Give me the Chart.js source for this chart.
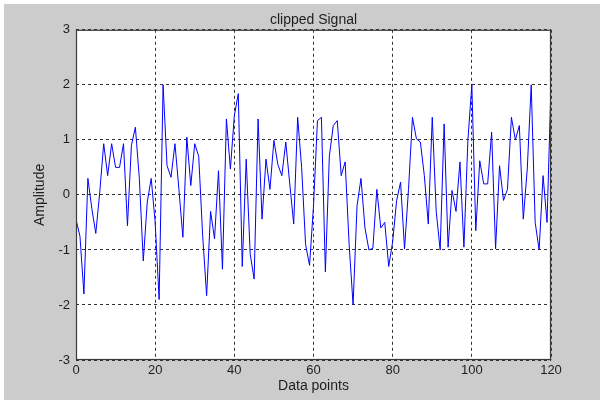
<!DOCTYPE html>
<html>
<head>
<meta charset="utf-8">
<script src="https://cdn.jsdelivr.net/npm/chart.js@4"></script>
<style>
html,body{margin:0;padding:0;background:#fff;}
canvas{display:block;}
</style>
</head>
<body>
<canvas id="c" width="600" height="400"></canvas>
<script>
const titleText = "clipped Signal";
const xLabel = "Data points";
const yLabel = "Amplitude";
const xTicks = [0, 20, 40, 60, 80, 100, 120];
const yTicks = [-3, -2, -1, 0, 1, 2, 3];
const signal = [
  -0.45, -0.75, -1.8, 0.3, -0.25, -0.7, 0.05, 0.93, 0.35, 0.93,
  0.5, 0.5, 0.93, -0.56, 0.9, 1.23, 0.3, -1.2, -0.13, 0.3,
  -0.5, -1.9, 2.0, 0.53, 0.32, 0.93, 0.1, -0.77, 1.05, 0.17,
  0.93, 0.7, -0.74, -1.83, -0.3, -0.8, 0.44, -1.35, 1.38, 0.47,
  1.44, 1.84, -1.3, 0.65, -1.07, -1.53, 1.38, -0.44, 0.65, 0.1,
  0.99, 0.55, 0.35, 0.96, 0.2, -0.53, 1.41, 0.5, -0.9, -1.28,
  -0.2, 1.35, 1.41, -1.4, 0.7, 1.26, 1.35, 0.35, 0.6, -0.9,
  -2.0, -0.2, 0.3, -0.6, -1.0, -0.97, 0.1, -0.6, -0.5, -1.3,
  -0.85, -0.1, 0.23, -0.98, 0.1, 1.41, 1.02, 0.96, 0.35, -0.53,
  1.41, -0.3, -1.0, 1.29, -0.95, 0.08, -0.3, 0.6, -0.95, 0.99,
  2.0, -0.65, 0.62, 0.2, 0.2, 1.14, -0.98, 0.53, -0.1, 0.1,
  1.41, 1.0, 1.26, -0.44, 0.47, 2.0, -0.5, -1.0, 0.35, -0.5,
  2.0
];

const points = signal.map((v, i) => ({x: i, y: v}));

const bgPlugin = {
  id: 'bg',
  beforeDraw(chart) {
    const ctx = chart.ctx;
    const a = chart.chartArea;
    ctx.save();
    ctx.fillStyle = '#ffffff';
    ctx.fillRect(0, 0, chart.width, chart.height);
    ctx.fillStyle = '#cccccc';
    ctx.fillRect(4, 4, chart.width - 4, chart.height - 4);
    ctx.fillStyle = '#ffffff';
    ctx.fillRect(a.left, a.top, a.right - a.left, a.bottom - a.top);
    ctx.restore();
  },
  afterDatasetsDraw(chart) {
    const ctx = chart.ctx;
    const a = chart.chartArea;
    ctx.save();
    ctx.strokeStyle = '#3a3a3a';
    ctx.lineWidth = 1.2;
    ctx.strokeRect(a.left + 0.5, a.top + 0.5, a.right - a.left - 1, a.bottom - a.top - 1);
    ctx.restore();
  }
};

const tickFont = {family: 'Liberation Sans, Arial, sans-serif', size: 13};
const labelFont = {family: 'Liberation Sans, Arial, sans-serif', size: 14};

new Chart(document.getElementById('c'), {
  type: 'line',
  data: {
    datasets: [{
      data: points,
      borderColor: '#0000ff',
      borderWidth: 1,
      pointRadius: 0,
      tension: 0,
      fill: false
    }]
  },
  options: {
    responsive: false,
    animation: false,
    devicePixelRatio: 1,
    layout: {padding: {left: 0, right: 49, top: 0, bottom: 0}},
    plugins: {
      legend: {display: false},
      tooltip: {enabled: false},
      title: {
        display: true,
        fullSize: false,
        text: titleText,
        color: '#1e1e1e',
        font: {family: 'Liberation Sans, Arial, sans-serif', size: 14, weight: 'normal'},
        padding: {top: 12, bottom: 1}
      }
    },
    scales: {
      x: {
        type: 'linear',
        min: 0,
        max: 120,
        afterBuildTicks(scale) { scale.ticks = xTicks.map(v => ({value: v})); },
        afterFit(scale) { scale.height = 40; },
        ticks: {color: '#1e1e1e', font: tickFont, padding: 3, maxRotation: 0},
        grid: {color: '#333333', lineWidth: 1, drawTicks: false},
        border: {display: false, dash: [3, 3]},
        title: {display: true, text: xLabel, color: '#1e1e1e', font: labelFont, padding: {top: 0, bottom: 5}}
      },
      y: {
        type: 'linear',
        min: -3,
        max: 3,
        afterBuildTicks(scale) { scale.ticks = yTicks.map(v => ({value: v})); },
        afterFit(scale) { scale.width = 76; },
        ticks: {color: '#1e1e1e', font: tickFont, padding: 6},
        grid: {color: '#333333', lineWidth: 1, drawTicks: false},
        border: {display: false, dash: [3, 3]},
        title: {display: true, text: yLabel, color: '#1e1e1e', font: labelFont, padding: {top: 32, bottom: 0}}
      }
    }
  },
  plugins: [bgPlugin]
});
</script>
</body>
</html>
